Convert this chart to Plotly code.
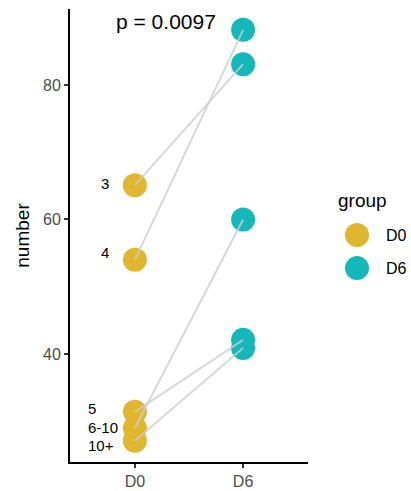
import plotly.graph_objects as go

# Paired measurements per subject: day 0 vs day 6
groups = ["D0", "D6"]
subjects = ["3", "4", "5", "6-10", "10+"]
d0_values = [65.1, 54.0, 31.4, 29.0, 27.1]
d6_values = [83.1, 88.2, 42.1, 60.0, 40.9]
p_label = "p = 0.0097"
legend_title = "group"

colors = {"D0": "#E0B62E", "D6": "#14B8BA"}
xpos = {g: i for i, g in enumerate(groups)}
FONT = "Liberation Sans, Arial, sans-serif"

fig = go.Figure()

# points for each group (drawn first so the connecting lines sit on top)
for g, vals in zip(groups, [d0_values, d6_values]):
    fig.add_trace(go.Scatter(
        x=[xpos[g]] * len(vals), y=vals, mode="markers", name=g,
        marker=dict(size=24, color=colors[g], line=dict(width=0)),
        showlegend=False,
    ))

# paired lines
for s, a, b in zip(subjects, d0_values, d6_values):
    fig.add_trace(go.Scatter(
        x=[xpos["D0"], xpos["D6"]], y=[a, b], mode="lines",
        line=dict(color="rgba(205,205,205,0.8)", width=2),
        showlegend=False, hoverinfo="skip",
    ))

# subject labels beside the D0 points
label_style = {
    "3": dict(xanchor="right", xshift=-24, yshift=2),
    "4": dict(xanchor="right", xshift=-24, yshift=7),
    "5": dict(xanchor="left", xshift=-49, yshift=3),
    "6-10": dict(xanchor="left", xshift=-49, yshift=0),
    "10+": dict(xanchor="left", xshift=-49, yshift=-5),
}
for s, v in zip(subjects, d0_values):
    st = label_style[s]
    fig.add_annotation(
        x=xpos["D0"], y=v, text=s, showarrow=False,
        xanchor=st["xanchor"], yanchor="middle",
        xshift=st["xshift"], yshift=st["yshift"],
        font=dict(family=FONT, size=15, color="black"),
    )

# test result
fig.add_annotation(
    x=0.287, y=89.4, text=p_label, showarrow=False,
    xanchor="center", yanchor="middle",
    font=dict(family=FONT, size=21, color="black"),
)

# legend with large point keys
fig.add_annotation(
    xref="paper", yref="paper", x=1.118, y=0.578, text=legend_title,
    showarrow=False, xanchor="left", yanchor="middle",
    font=dict(family=FONT, size=19, color="black"),
)
for g, ly in zip(groups, [0.501, 0.428]):
    fig.add_shape(
        type="circle", xref="paper", yref="paper",
        xsizemode="pixel", ysizemode="pixel",
        xanchor=1.206, yanchor=ly, x0=-12, x1=12, y0=-12, y1=12,
        fillcolor=colors[g], line=dict(width=0),
    )
    fig.add_annotation(
        xref="paper", yref="paper", x=1.32, y=ly, text=g,
        showarrow=False, xanchor="left", yanchor="middle",
        font=dict(family=FONT, size=16, color="black"),
    )

fig.update_layout(
    width=411, height=491,
    margin=dict(l=70, r=103, t=9, b=29),
    plot_bgcolor="white", paper_bgcolor="white",
    font=dict(family=FONT, color="black"),
    showlegend=False,
)
fig.update_xaxes(
    range=[-0.6, 1.6], tickmode="array",
    tickvals=[xpos[g] for g in groups], ticktext=groups,
    showline=True, linecolor="black", linewidth=2,
    ticks="outside", ticklen=4, tickcolor="#333333", tickwidth=2,
    tickfont=dict(size=16, color="#4D4D4D"),
    showgrid=False, zeroline=False, automargin=False,
)
fig.update_yaxes(
    range=[23.94, 91.3], tickvals=[40, 60, 80],
    showline=True, linecolor="black", linewidth=2,
    ticks="outside", ticklen=4, tickcolor="#333333", tickwidth=2,
    tickfont=dict(size=16, color="#4D4D4D"),
    showgrid=False, zeroline=False, automargin=False,
    title=dict(text="number", font=dict(size=19, color="black"), standoff=8),
)

fig.write_html("out.html")
